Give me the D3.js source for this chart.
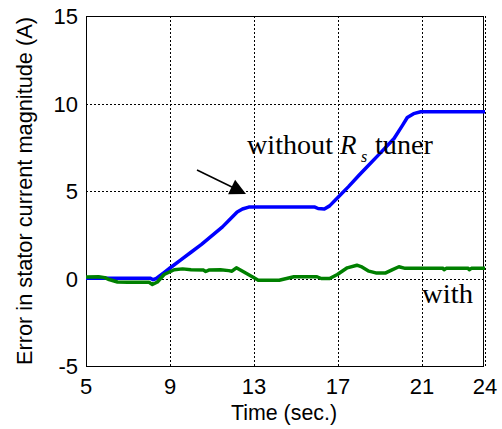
<!DOCTYPE html>
<html><head><meta charset="utf-8">
<script src="https://cdn.jsdelivr.net/npm/d3@7"></script>
<style>body{margin:0;background:#fff}svg{display:block}</style>
</head><body>
<svg id="c" width="502" height="429"></svg>
<script>
const xTicks = [5, 9, 13, 17, 21, 24];
const yTicks = [-5, 0, 5, 10, 15];
const blueTime = [5.0, 8.05, 8.2, 8.35, 8.7, 9.0, 9.5, 10.0, 10.5, 11.0, 11.5, 11.87, 12.2, 12.45, 12.75, 15.9, 16.05, 16.35, 16.6, 16.97, 17.5, 18.0, 18.4, 19.0, 19.67, 20.07, 20.3, 20.6, 20.94, 24.0];
const blueVal  = [0.02, 0.02, -0.07, 0.0, 0.32, 0.6, 1.05, 1.5, 1.95, 2.45, 2.95, 3.4, 3.8, 3.97, 4.08, 4.08, 4.0, 3.97, 4.15, 4.6, 5.25, 5.9, 6.4, 7.15, 8.0, 8.75, 9.2, 9.42, 9.53, 9.53];
const greenTime = [5.0, 5.6, 5.9, 6.1, 6.5, 7.0, 8.0, 8.16, 8.4, 8.72, 9.2, 9.6, 10.0, 10.6, 10.7, 10.85, 11.4, 11.8, 11.95, 12.16, 12.5, 13.0, 13.2, 14.2, 14.4, 14.9, 16.0, 16.2, 16.6, 16.97, 17.44, 17.9, 18.1, 18.47, 18.8, 19.27, 19.6, 19.9, 20.2, 22.0, 22.05, 22.15, 23.2, 23.25, 23.35, 24.0];
const greenVal  = [0.08, 0.1, 0.05, -0.06, -0.2, -0.22, -0.22, -0.34, -0.2, 0.23, 0.5, 0.55, 0.5, 0.48, 0.4, 0.48, 0.5, 0.45, 0.42, 0.61, 0.38, 0.04, -0.1, -0.1, -0.04, 0.1, 0.1, 0.0, 0.0, 0.23, 0.61, 0.76, 0.68, 0.42, 0.32, 0.32, 0.51, 0.67, 0.58, 0.58, 0.5, 0.58, 0.58, 0.5, 0.58, 0.58];

const svg = d3.select('#c');
const x = d3.scaleLinear().domain([5, 24]).range([86, 485]);
const y = d3.scaleLinear().domain([-5, 15]).range([366, 16]);
const L = 86, R = 483, T = 16, B = 366;

// grid
const grid = svg.append('g').attr('stroke', '#000').attr('stroke-width', 1).attr('stroke-dasharray', '2,2').attr('shape-rendering', 'crispEdges');
xTicks.filter(t => t > 5).forEach(t => {
  grid.append('line').attr('x1', Math.round(x(t)) + 0.5).attr('x2', Math.round(x(t)) + 0.5).attr('y1', T).attr('y2', B);
});
yTicks.filter(t => t > -5 && t < 15).forEach(t => {
  grid.append('line').attr('x1', L).attr('x2', R).attr('y1', Math.round(y(t)) + 0.5).attr('y2', Math.round(y(t)) + 0.5);
});

// frame
svg.append('rect').attr('x', L + 0.5).attr('y', T + 0.5).attr('width', R - L).attr('height', B - T)
  .attr('fill', 'none').attr('stroke', '#000').attr('stroke-width', 1.3).attr('shape-rendering', 'crispEdges');

// lines
const line = d3.line().x(d => x(d[0])).y(d => y(d[1]));
const blue = blueTime.map((t, i) => [t, blueVal[i]]);
const green = greenTime.map((t, i) => [t, greenVal[i]]);
svg.append('path').attr('d', line(blue)).attr('fill', 'none').attr('stroke', '#0000ff').attr('stroke-width', 3.5).attr('stroke-linejoin', 'round');
svg.append('path').attr('d', line(green)).attr('fill', 'none').attr('stroke', '#008000').attr('stroke-width', 3.5).attr('stroke-linejoin', 'round');

// tick labels
const font = 'Liberation Sans, Arial, sans-serif';
xTicks.forEach(t => {
  svg.append('text').attr('x', x(t)).attr('y', 394).attr('text-anchor', 'middle')
    .attr('font-family', font).attr('font-size', 22).text(t);
});
yTicks.forEach(t => {
  svg.append('text').attr('x', 78).attr('y', y(t) + 8).attr('text-anchor', 'end')
    .attr('font-family', font).attr('font-size', 22).text(t);
});
svg.append('text').attr('x', 284).attr('y', 420).attr('text-anchor', 'middle')
  .attr('font-family', font).attr('font-size', 22).attr('textLength', 106).attr('lengthAdjust', 'spacingAndGlyphs').text('Time (sec.)');
svg.append('text').attr('transform', 'translate(32,191) rotate(-90)').attr('text-anchor', 'middle')
  .attr('font-family', font).attr('font-size', 21.5).attr('textLength', 348).attr('lengthAdjust', 'spacingAndGlyphs').text('Error in stator current magnitude (A)');

// annotations
const serif = 'Liberation Serif, Times New Roman, serif';
svg.append('text').attr('x', 247).attr('y', 154).attr('font-family', serif).attr('font-size', 27)
  .attr('textLength', 86).attr('lengthAdjust', 'spacingAndGlyphs').text('without');
svg.append('text').attr('x', 340).attr('y', 154).attr('font-family', serif).attr('font-size', 27).attr('font-style', 'italic')
  .text('R');
svg.append('text').attr('x', 361).attr('y', 162).attr('font-family', serif).attr('font-size', 16).attr('font-style', 'italic')
  .text('s');
svg.append('text').attr('x', 375).attr('y', 154).attr('font-family', serif).attr('font-size', 27)
  .attr('textLength', 58).attr('lengthAdjust', 'spacingAndGlyphs').text('tuner');
svg.append('text').attr('x', 422).attr('y', 303).attr('font-family', serif).attr('font-size', 27)
  .attr('textLength', 51).attr('lengthAdjust', 'spacingAndGlyphs').text('with');

// arrow
svg.append('line').attr('x1', 197).attr('y1', 170).attr('x2', 236).attr('y2', 189).attr('stroke', '#000').attr('stroke-width', 1.5);
svg.append('path').attr('d', 'M246,194 L228.1,194.2 L235.1,179.8 Z').attr('fill', '#000');
</script>
</body></html>
